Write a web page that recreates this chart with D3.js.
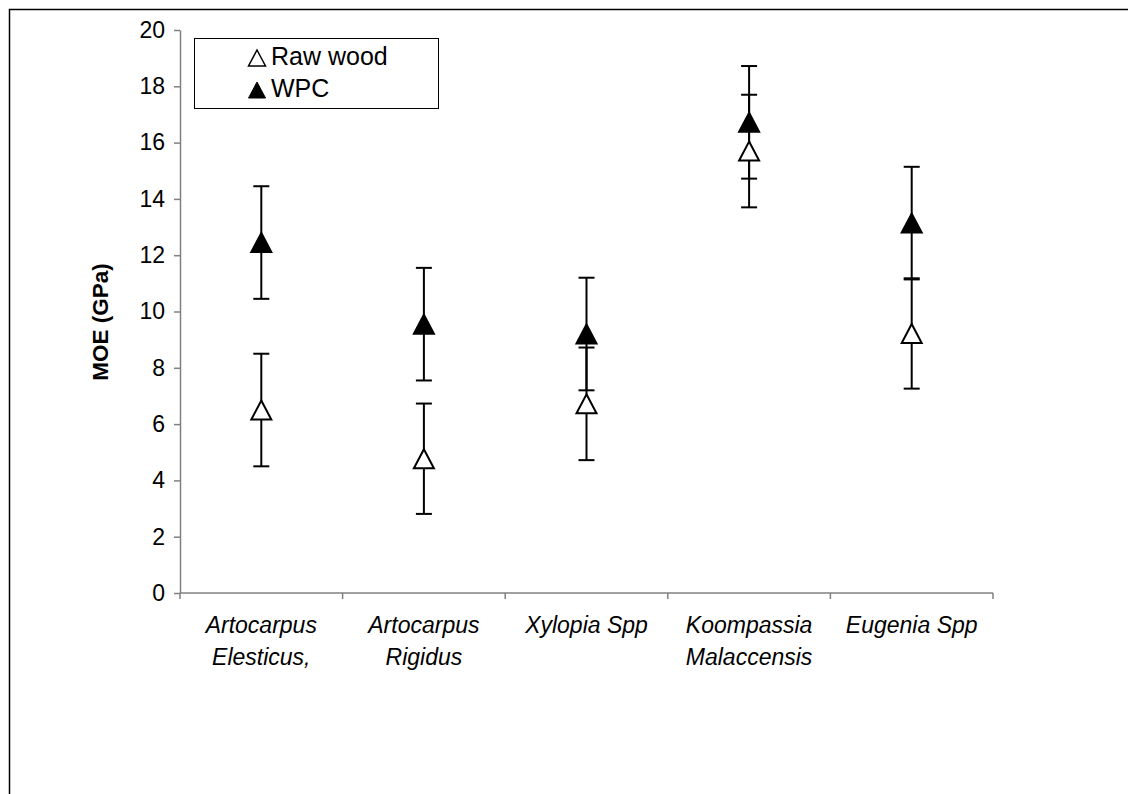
<!DOCTYPE html>
<html>
<head>
<meta charset="utf-8">
<script src="https://cdn.jsdelivr.net/npm/d3@7"></script>
<style>
  body { margin: 0; background: #fff; }
  svg { display: block; font-family: Arial, "Liberation Sans", sans-serif; }
</style>
</head>
<body>
<svg id="chart"></svg>
<script>
const width = 1128;
const height = 794;

// category labels, one entry per line
const species = [
  ["Artocarpus", "Elesticus,"],
  ["Artocarpus", "Rigidus"],
  ["Xylopia Spp"],
  ["Koompassia", "Malaccensis"],
  ["Eugenia Spp"]
];

const rawWood = [6.5, 4.77, 6.72, 15.7, 9.22];
const rawErr = [2.0, 1.96, 2.0, 2.0, 1.96];
const wpc = [12.45, 9.55, 9.2, 16.72, 13.14];
const wpcErr = [2.0, 2.0, 2.0, 2.0, 2.0];

const yTicks = [0, 2, 4, 6, 8, 10, 12, 14, 16, 18, 20];

const margin = { top: 30, right: 135, bottom: 201, left: 180 };

const svg = d3.select("#chart")
  .attr("width", width)
  .attr("height", height);

// outer chart border (runs off the right and bottom edge)
svg.append("rect")
  .attr("x", 9.5)
  .attr("y", 9.5)
  .attr("width", width + 20)
  .attr("height", height + 20)
  .attr("fill", "none")
  .attr("stroke", "#000")
  .attr("stroke-width", 1.5);

const x = d3.scaleBand()
  .domain(d3.range(species.length))
  .range([margin.left, width - margin.right]);

const y = d3.scaleLinear()
  .domain([0, 20])
  .range([height - margin.bottom, margin.top]);

// y axis
const yAxis = svg.append("g")
  .attr("transform", `translate(${margin.left},0)`)
  .call(d3.axisLeft(y).tickValues(yTicks).tickSize(6).tickPadding(9).tickSizeOuter(0));
yAxis.select(".domain").attr("stroke", "#808080").attr("stroke-width", 1.5);
yAxis.selectAll(".tick line").attr("stroke", "#808080").attr("stroke-width", 1.5);
yAxis.selectAll(".tick text")
  .attr("font-size", 23)
  .attr("font-family", "Arial, 'Liberation Sans', sans-serif")
  .attr("fill", "#000");

// x axis: ticks between categories
const xBase = y(0);
svg.append("line")
  .attr("x1", x.range()[0]).attr("x2", x.range()[1])
  .attr("y1", xBase).attr("y2", xBase)
  .attr("stroke", "#808080").attr("stroke-width", 1.5);

const boundaries = d3.range(species.length + 1).map(i => x.range()[0] + i * x.bandwidth());
svg.selectAll(".xtick")
  .data(boundaries)
  .enter().append("line")
  .attr("class", "xtick")
  .attr("x1", d => d).attr("x2", d => d)
  .attr("y1", xBase).attr("y2", xBase + 6)
  .attr("stroke", "#808080").attr("stroke-width", 1.5);

const catLabels = svg.selectAll(".cat")
  .data(species)
  .enter().append("text")
  .attr("class", "cat")
  .attr("text-anchor", "middle")
  .attr("font-size", 23)
  .attr("font-style", "italic")
  .attr("fill", "#000");

catLabels.selectAll("tspan")
  .data((d, i) => d.map(t => ({ t, i })))
  .enter().append("tspan")
  .attr("x", d => x(d.i) + x.bandwidth() / 2)
  .attr("y", (d, j) => xBase + 40 + j * 32)
  .text(d => d.t);

// axis title
svg.append("text")
  .attr("transform", `translate(108,322) rotate(-90)`)
  .attr("text-anchor", "middle")
  .attr("font-size", 22.5)
  .attr("font-weight", "bold")
  .text("MOE (GPa)");

function trianglePath(w, h) {
  return `M0,${-h / 2}L${w / 2},${h / 2}L${-w / 2},${h / 2}Z`;
}

const series = [
  { name: "Raw wood", values: rawWood, err: rawErr, fill: "#fff" },
  { name: "WPC", values: wpc, err: wpcErr, fill: "#000" }
];

const capW = 16;

// error bars first, markers on top
series.forEach(s => {
  const g = svg.append("g");
  s.values.forEach((v, i) => {
    const cx = x(i) + x.bandwidth() / 2;
    g.append("line")
      .attr("x1", cx).attr("x2", cx)
      .attr("y1", y(v - s.err[i])).attr("y2", y(v + s.err[i]))
      .attr("stroke", "#000").attr("stroke-width", 2);
    [v - s.err[i], v + s.err[i]].forEach(e => {
      g.append("line")
        .attr("x1", cx - capW / 2).attr("x2", cx + capW / 2)
        .attr("y1", y(e)).attr("y2", y(e))
        .attr("stroke", "#000").attr("stroke-width", 2);
    });
  });
});

series.forEach(s => {
  svg.append("g").selectAll("path")
    .data(s.values)
    .enter().append("path")
    .attr("d", trianglePath(20, 19))
    .attr("transform", (d, i) => `translate(${x(i) + x.bandwidth() / 2},${y(d)})`)
    .attr("fill", s.fill)
    .attr("stroke", "#000")
    .attr("stroke-width", 2)
    .attr("stroke-linejoin", "miter");
});

// legend
const legend = svg.append("g");
legend.append("rect")
  .attr("x", 194.5).attr("y", 38.5)
  .attr("width", 244).attr("height", 70)
  .attr("fill", "#fff")
  .attr("stroke", "#000")
  .attr("stroke-width", 1);

series.forEach((s, i) => {
  const ly = 58 + i * 32;
  legend.append("path")
    .attr("d", trianglePath(17, 16))
    .attr("transform", `translate(257,${ly})`)
    .attr("fill", s.fill)
    .attr("stroke", "#000")
    .attr("stroke-width", s.fill === "#fff" ? 1.5 : 1);
  legend.append("text")
    .attr("x", 271)
    .attr("y", ly + 7)
    .attr("font-size", 25)
    .text(s.name);
});
</script>
</body>
</html>
